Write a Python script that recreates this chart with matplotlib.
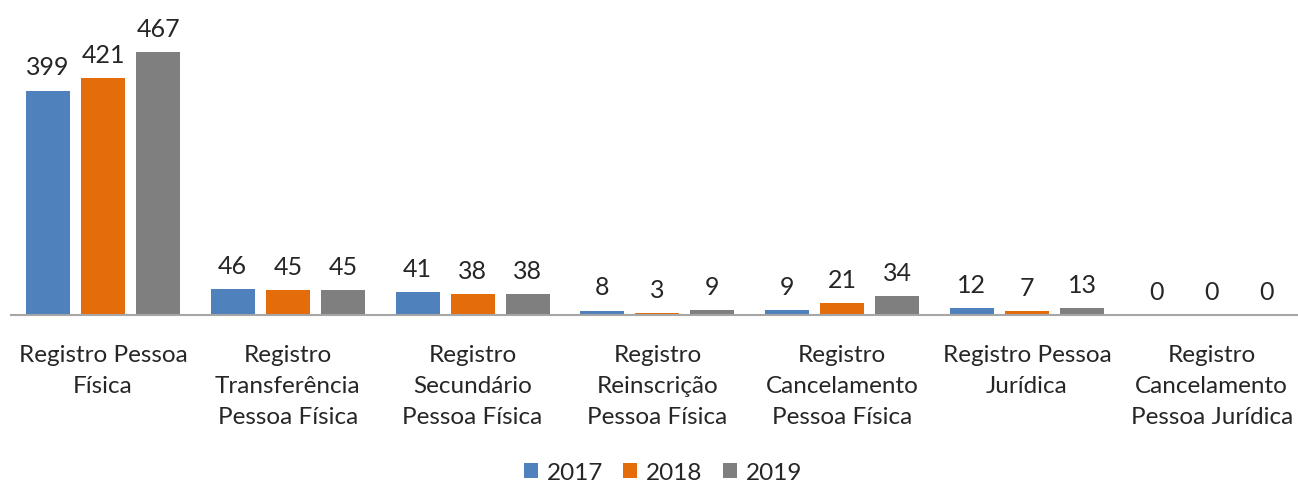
import matplotlib
matplotlib.use("Agg")
import matplotlib.pyplot as plt
import numpy as np

categories = ["Registro Pessoa\nFísica", "Registro\nTransferência\nPessoa Física",
              "Registro\nSecundário\nPessoa Física", "Registro\nReinscrição\nPessoa Física",
              "Registro\nCancelamento\nPessoa Física", "Registro Pessoa\nJurídica",
              "Registro\nCancelamento\nPessoa Jurídica"]
series_names = ["2017", "2018", "2019"]
v2017 = [399, 46, 41, 8, 9, 12, 0]
v2018 = [421, 45, 38, 3, 21, 7, 0]
v2019 = [467, 45, 38, 9, 34, 13, 0]
colors = ["#4F81BD", "#E46C0A", "#7F7F7F"]

plt.rcParams['font.family'] = ['Lato', 'DejaVu Sans']

W, H = 1298, 483
fig = plt.figure(figsize=(W/100, H/100), dpi=100)
ax = fig.add_axes([10.6/W, (H-315)/H, 1293.6/W, 315/H])

x = np.arange(len(categories))
bw = 0.238
pitch = 0.298
for i, (vals, name, c) in enumerate(zip([v2017, v2018, v2019], series_names, colors)):
    bars = ax.bar(x + (i-1)*pitch, vals, bw, color=c, label=name)
    for b, v in zip(bars, vals):
        ax.annotate(str(v), (b.get_x()+b.get_width()/2, v), xytext=(0, 8),
                    textcoords="offset points", ha="center", va="bottom",
                    fontsize=18, color="#262626")

ax.set_xlim(-0.5, len(categories)-0.5)
ax.set_ylim(0, 560)
ax.set_yticks([])
ax.set_xticks(x)
ax.set_xticklabels(categories, fontsize=17.5, color="#262626", linespacing=1.6)
ax.tick_params(axis="x", length=0, pad=21.5)
for s in ["top", "right", "left"]:
    ax.spines[s].set_visible(False)
ax.spines["bottom"].set_color("#A6A6A6")
ax.spines["bottom"].set_linewidth(1.5)

fig.legend(loc="center", bbox_to_anchor=(663/W, (H-473)/H), ncol=3, frameon=False,
           fontsize=17.5, handlelength=0.58, handleheight=0.58, handletextpad=0.37,
           columnspacing=0.82, labelcolor="#262626", borderpad=0)

fig.savefig("out.png", dpi=100)
